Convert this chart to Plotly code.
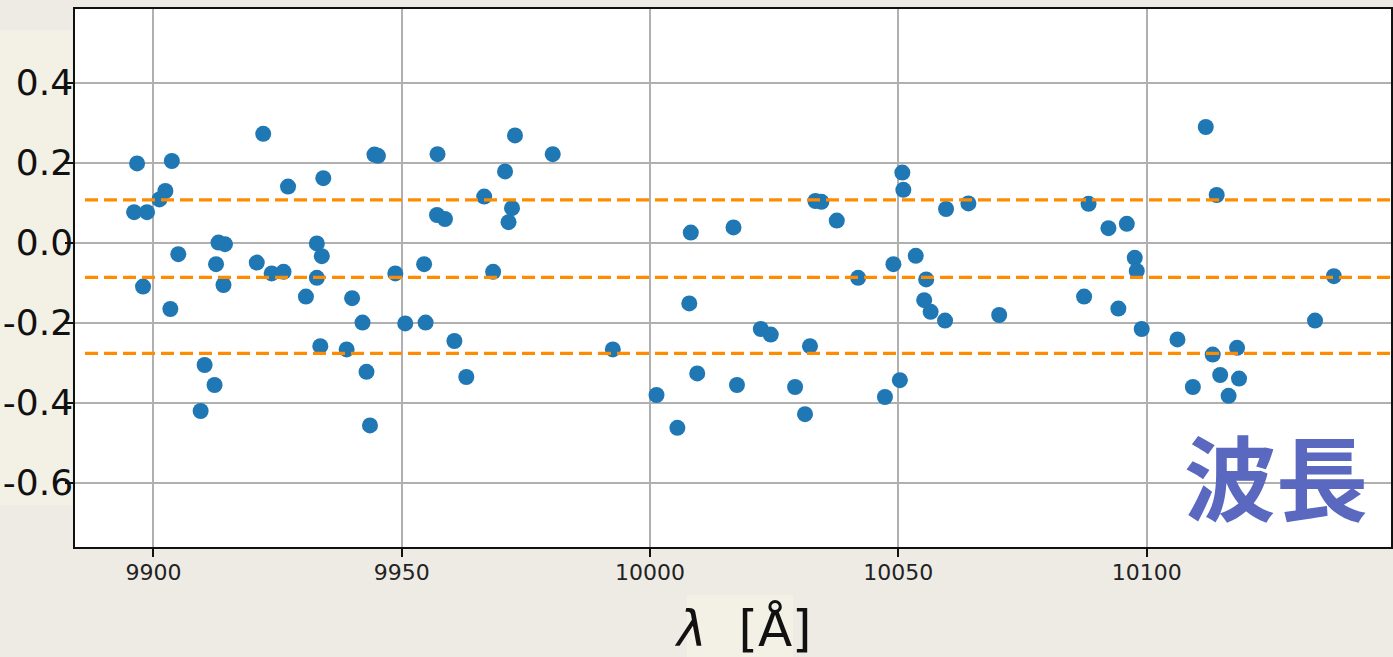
import plotly.graph_objects as go

# ---- data ----
wavelength = [
    9896.7, 9903.7, 9922.1, 9944.5, 9945.2, 9927.1, 9934.2, 9902.4, 9901.2, 9896.1,
    9898.7, 9905.0, 9897.9, 9903.4, 9913.1, 9914.4, 9912.6, 9914.1, 9920.8, 9923.8,
    9926.2, 9932.9, 9933.9, 9932.9, 9930.7, 9940.0, 9942.1, 9933.6, 9938.9, 9942.9,
    9910.3, 9912.3, 9909.5, 9943.6,
    9957.2, 9972.8, 9980.4, 9970.8, 9966.6, 9972.2, 9971.5, 9957.1, 9958.7, 9948.7,
    9954.5, 9968.4, 9950.7, 9954.8, 9960.6, 9963.0, 9992.5,
    10033.3, 10034.5, 10037.6, 10008.2, 10016.8, 10041.9, 10007.9, 10022.3, 10024.3, 10032.2,
    10009.5, 10017.5, 10029.2, 10001.3, 10031.2, 10005.5,
    10050.8, 10051.0, 10059.6, 10064.1, 10088.3, 10092.3, 10053.5, 10049.0, 10055.6, 10055.2,
    10056.5, 10059.4, 10070.3, 10087.4, 10050.3, 10047.3,
    10111.9, 10114.1, 10096.0, 10097.6, 10098.0, 10094.3, 10099.0, 10137.7, 10133.9, 10106.2,
    10113.3, 10118.2, 10114.8, 10118.6, 10109.3, 10116.5,
]
residual = [
    0.198, 0.204, 0.272, 0.220, 0.217, 0.140, 0.161, 0.129, 0.108, 0.076,
    0.076, -0.029, -0.110, -0.166, 0.000, -0.004, -0.054, -0.106, -0.050, -0.077,
    -0.073, -0.002, -0.034, -0.088, -0.135, -0.139, -0.200, -0.259, -0.267, -0.323,
    -0.306, -0.356, -0.421, -0.457,
    0.221, 0.268, 0.221, 0.178, 0.115, 0.086, 0.051, 0.069, 0.059, -0.077,
    -0.054, -0.073, -0.202, -0.200, -0.246, -0.336, -0.267,
    0.104, 0.102, 0.055, 0.025, 0.038, -0.088, -0.152, -0.216, -0.230, -0.259,
    -0.327, -0.356, -0.361, -0.381, -0.429, -0.463,
    0.175, 0.132, 0.084, 0.098, 0.097, 0.036, -0.033, -0.054, -0.092, -0.144,
    -0.173, -0.195, -0.181, -0.135, -0.344, -0.386,
    0.289, 0.119, 0.047, -0.038, -0.071, -0.165, -0.216, -0.084, -0.195, -0.242,
    -0.280, -0.263, -0.331, -0.340, -0.361, -0.383,
]
ref_levels = [0.107, -0.087, -0.277]

x_ticks = [9900, 9950, 10000, 10050, 10100]
x_ticktext = ["9900", "9950", "10000", "10050", "10100"]
y_ticks = [0.4, 0.2, 0.0, -0.2, -0.4, -0.6]
y_ticktext = ["0.4", "0.2", "0.0", "-0.2", "-0.4", "-0.6"]
x_range = [9884.2, 10149.2]
y_range = [-0.761, 0.584]

x_title = "<i>λ</i>  [Å]"
watermark = "波長"

# ---- figure ----
fig = go.Figure()
fig.add_trace(go.Scatter(
    x=wavelength, y=residual, mode="markers",
    marker=dict(color="#1f77b4", size=16, line=dict(width=0)),
    showlegend=False, hoverinfo="skip",
))

for lvl in ref_levels:
    fig.add_shape(type="line", xref="paper", yref="y", x0=0.0076, x1=1, y0=lvl, y1=lvl,
                  line=dict(color="#ff8c00", width=3.2, dash="13px,6px"), layer="above")

# beige label backdrops
fig.add_shape(type="rect", xref="paper", yref="paper", x0=-0.06, x1=-0.0023, y0=0.078, y1=0.961,
              fillcolor="#f3f0e5", line=dict(width=0), layer="below")
fig.add_shape(type="rect", xref="paper", yref="paper", x0=0.465, x1=0.5456, y0=-0.21, y1=-0.089,
              fillcolor="#f3f0e5", line=dict(width=0), layer="below")

fig.add_annotation(text=x_title, xref="paper", yref="paper", x=0.5076, y=-0.152,
                   xanchor="center", yanchor="middle", showarrow=False,
                   font=dict(family="DejaVu Sans", size=50, color="#111111"))

fig.add_annotation(text="<b>" + watermark + "</b>", xref="paper", yref="paper",
                   x=0.9126, y=0.137, xanchor="center", yanchor="middle", showarrow=False,
                   font=dict(family="Noto Sans CJK JP", size=92, color="#5a68c0"))

fig.update_layout(
    width=1393, height=657,
    margin=dict(l=75, r=2, t=9, b=110, autoexpand=False),
    paper_bgcolor="#eeebe4",
    plot_bgcolor="#ffffff",
    showlegend=False,
)
fig.update_xaxes(
    range=x_range, tickvals=x_ticks, ticktext=x_ticktext,
    showgrid=True, gridcolor="#b0b0b0", gridwidth=1.5,
    zeroline=False, showline=True, linecolor="#111111", linewidth=1.5, mirror=True,
    ticks="outside", ticklen=8, tickwidth=1.5, tickcolor="#111111",
    tickfont=dict(family="DejaVu Sans", size=22, color="#222222"),
    ticklabelstandoff=-3,
    automargin=False,
)
fig.update_yaxes(
    range=y_range, tickvals=y_ticks, ticktext=y_ticktext,
    showgrid=True, gridcolor="#b0b0b0", gridwidth=1.5,
    zeroline=False, showline=True, linecolor="#111111", linewidth=1.5, mirror=True,
    ticks="outside", ticklen=8, tickwidth=1.5, tickcolor="#111111",
    tickfont=dict(family="DejaVu Sans", size=36, color="#111111"),
    ticklabelstandoff=-15,
    automargin=False,
)

fig.write_html("out.html", config={"displayModeBar": False})
